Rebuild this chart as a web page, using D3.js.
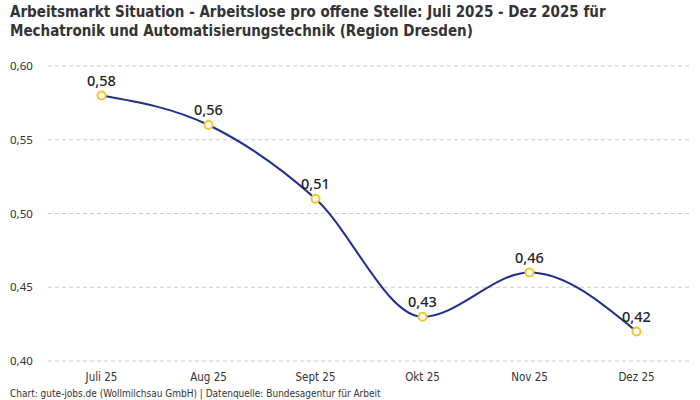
<!DOCTYPE html>
<meta charset="utf-8">
<style>
    body { margin: 0; background: #fff; }
    text { font-family: "DejaVu Sans Condensed", sans-serif; }
    .grid line { stroke: #ccc; stroke-dasharray: 4 3; }
    .val, .ytick { font-family: "Noto Sans", sans-serif; }
</style>
<body>
<svg width="700" height="400"></svg>
<script src="https://d3js.org/d3.v7.min.js"></script>
<script>
    const months = ["Juli 25", "Aug 25", "Sept 25", "Okt 25", "Nov 25", "Dez 25"];
    const values = [0.58, 0.56, 0.51, 0.43, 0.46, 0.42];
    const yTicks = [0.40, 0.45, 0.50, 0.55, 0.60];

    const svg = d3.select("svg");
    const fmt = v => d3.format(".2f")(v).replace(".", ",");

    // title
    const title = svg.append("text").attr("x", 10).attr("y", 17)
        .attr("font-size", 15).attr("font-weight", "bold").attr("fill", "#333");
    title.append("tspan").attr("x", 10).attr("dy", 0)
        .text("Arbeitsmarkt Situation - Arbeitslose pro offene Stelle: Juli 2025 - Dez 2025 für");
    title.append("tspan").attr("x", 10).attr("dy", 18.5)
        .text("Mechatronik und Automatisierungstechnik (Region Dresden)");

    let x = d3.scalePoint().domain(months).range([48, 690]).padding(0.5);
    let y = d3.scaleLinear().domain([0.40, 0.60]).range([361, 66]);

    // grid
    svg.append("g").attr("class", "grid")
        .selectAll("line").data(yTicks).enter().append("line")
        .attr("x1", 48).attr("x2", 690)
        .attr("y1", d => y(d)).attr("y2", d => y(d));

    // y labels
    svg.append("g").selectAll("text").data(yTicks).enter().append("text")
        .attr("class", "ytick")
        .attr("x", 10).attr("y", d => y(d) + 4)
        .attr("font-size", 11.5).attr("fill", "#333")
        .text(fmt);

    // x labels
    svg.append("g").selectAll("text").data(months).enter().append("text")
        .attr("x", d => x(d)).attr("y", 381)
        .attr("text-anchor", "middle").attr("font-size", 11.5).attr("fill", "#333")
        .text(d => d);

    // line
    const line = d3.line()
        .x((d, i) => x(months[i]))
        .y(d => y(d))
        .curve(d3.curveMonotoneX);
    svg.append("path").datum(values)
        .attr("d", line).attr("fill", "none")
        .attr("stroke", "#1f2d8f").attr("stroke-width", 2);

    // points
    svg.append("g").selectAll("circle").data(values).enter().append("circle")
        .attr("cx", (d, i) => x(months[i])).attr("cy", d => y(d))
        .attr("r", 4).attr("fill", "#fff")
        .attr("stroke", "#f9c32b").attr("stroke-width", 2);

    // value labels
    svg.append("g").selectAll("text").data(values).enter().append("text")
        .attr("class", "val")
        .attr("x", (d, i) => x(months[i])).attr("y", d => y(d) - 10)
        .attr("text-anchor", "middle").attr("font-size", 14.5).attr("font-weight", 500)
        .attr("fill", "#222")
        .text(fmt);

    // footer
    svg.append("text").attr("x", 10).attr("y", 397)
        .attr("font-size", 10).attr("fill", "#333")
        .text("Chart: gute-jobs.de (Wollmilchsau GmbH) | Datenquelle: Bundesagentur für Arbeit");
</script>
</body>
